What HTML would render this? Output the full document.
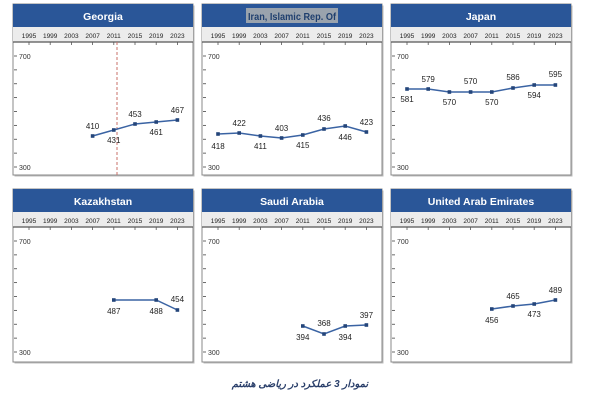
<!DOCTYPE html>
<html><head><meta charset="utf-8"><style>
body{margin:0;background:#fff;width:602px;height:406px;overflow:hidden}
svg text{font-family:"Liberation Sans",sans-serif}
</style></head><body>
<svg id="s" width="602" height="406" xmlns="http://www.w3.org/2000/svg"></svg>
<script>
const S=document.getElementById('s');let h='';
const years=[1995,1999,2003,2007,2011,2015,2019,2023];
const P=[
{t:'Georgia',c:0,r:0,pts:[[3,136],[4,130],[5,124],[6,122],[7,120]],lb:[[3,'410',-10],[4,'431',10],[5,'453',-10],[6,'461',10],[7,'467',-10]],dash:true},
{t:'Iran, Islamic Rep. Of',c:1,r:0,sel:true,pts:[[0,134],[1,133],[2,136],[3,138],[4,135],[5,129],[6,126],[7,132]],lb:[[0,'418',12],[1,'422',-10],[2,'411',10],[3,'403',-10],[4,'415',10],[5,'436',-11],[6,'446',11],[7,'423',-10]]},
{t:'Japan',c:2,r:0,pts:[[0,89],[1,89],[2,92],[3,92],[4,92],[5,88],[6,85],[7,85]],lb:[[0,'581',10],[1,'579',-10],[2,'570',10],[3,'570',-11],[4,'570',10],[5,'586',-11],[6,'594',10],[7,'595',-11]]},
{t:'Kazakhstan',c:0,r:1,pts:[[4,300],[6,300],[7,310]],lb:[[4,'487',11],[6,'488',11],[7,'454',-11]]},
{t:'Saudi Arabia',c:1,r:1,pts:[[4,326],[5,334],[6,326],[7,325]],lb:[[4,'394',11],[5,'368',-11],[6,'394',11],[7,'397',-10]]},
{t:'United Arab Emirates',c:2,r:1,pts:[[4,309],[5,306],[6,304],[7,300]],lb:[[4,'456',11],[5,'465',-10],[6,'473',10],[7,'489',-10]]}
];
for(const p of P){
 const x0=[13,202,391][p.c], y0=[4,189][p.r], w=180, H=[171,173][p.r];
 const yx=i=>x0+16+i*21.2;
 h+=`<rect x="${x0+1.5}" y="${y0+1.5}" width="${w}" height="${H}" fill="#bbb"/>`;
 h+=`<rect x="${x0}" y="${y0}" width="${w}" height="${H}" fill="#fff" stroke="#8a8a8a" stroke-width="1"/>`;
 h+=`<rect x="${x0}" y="${y0}" width="${w}" height="23" fill="#2a5698"/>`;
 if(p.sel){h+=`<rect x="${x0+w/2-46}" y="${y0+4}" width="92" height="15" fill="#9aa3ad"/>`;
  h+=`<text x="${x0+w/2-44}" y="${y0+16}" font-size="10" font-weight="bold" fill="#1f3f6e" textLength="88" lengthAdjust="spacingAndGlyphs">${p.t}</text>`;}
 else h+=`<text x="${x0+w/2}" y="${y0+16}" font-size="10.5" font-weight="bold" fill="#fff" text-anchor="middle">${p.t}</text>`;
 h+=`<rect x="${x0}" y="${y0+23}" width="${w}" height="15" fill="#ececec"/>`;
 h+=`<line x1="${x0}" x2="${x0+w}" y1="${y0+38}" y2="${y0+38}" stroke="#555" stroke-width="1.2"/>`;
 years.forEach((y,i)=>{h+=`<text x="${yx(i)}" y="${y0+34}" font-size="6.5" fill="#222" text-anchor="middle">${y}</text>`;
  h+=`<line x1="${yx(i)}" x2="${yx(i)}" y1="${y0+38}" y2="${y0+41}" stroke="#555" stroke-width="0.8"/>`;});
 const top=y0+52,bot=y0+163;
 for(let k=0;k<9;k++){const yy=top+k*(bot-top)/8;h+=`<line x1="${x0+1}" x2="${x0+4}" y1="${yy}" y2="${yy}" stroke="#444" stroke-width="0.8"/>`;}
 h+=`<text x="${x0+6}" y="${top+3}" font-size="7" fill="#333">700</text><text x="${x0+6}" y="${bot+3}" font-size="7" fill="#333">300</text>`;
 if(p.dash)h+=`<line x1="${x0+104}" x2="${x0+104}" y1="${y0+38}" y2="${y0+H}" stroke="#c9706a" stroke-width="1" stroke-dasharray="3,2"/>`;
 h+=`<polyline fill="none" stroke="#3a63a3" stroke-width="1.5" points="${p.pts.map(q=>yx(q[0])+','+q[1]).join(' ')}"/>`;
 p.pts.forEach(q=>{h+=`<rect x="${yx(q[0])-1.8}" y="${q[1]-1.8}" width="3.6" height="3.6" fill="#24457a"/>`;});
 p.lb.forEach(l=>{const q=p.pts.find(z=>z[0]==l[0]);h+=`<text x="${yx(l[0])}" y="${q[1]+l[2]+3}" font-size="8" fill="#222" text-anchor="middle">${l[1]}</text>`;});
}
h+=`<text x="300" y="387" font-size="10" font-weight="bold" font-style="italic" fill="#2a3f6a" text-anchor="middle" font-family="DejaVu Sans, sans-serif" direction="rtl">نمودار 3 عملکرد در ریاضی هشتم</text>`;
S.innerHTML=h;
</script>
</body></html>
